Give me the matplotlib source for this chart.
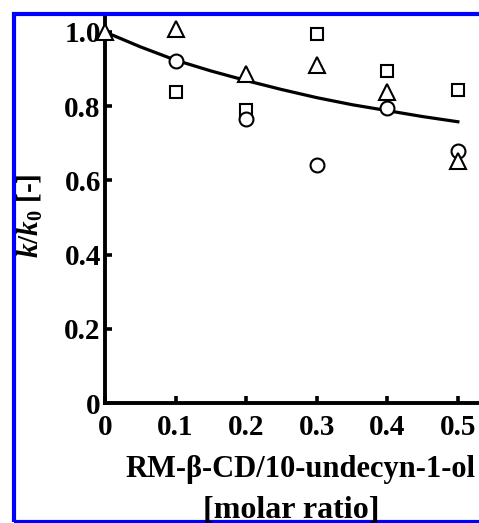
import numpy as np
import matplotlib.pyplot as plt
from matplotlib.patches import Rectangle

plt.rcParams['font.family'] = 'Liberation Serif'
plt.rcParams['font.weight'] = 'bold'
plt.rcParams['mathtext.fontset'] = 'custom'
plt.rcParams['mathtext.rm'] = 'Liberation Serif:bold'
plt.rcParams['mathtext.it'] = 'Liberation Serif:italic:bold'
plt.rcParams['mathtext.bf'] = 'Liberation Serif:bold'

# values
x_tri = [0.0, 0.1, 0.2, 0.3, 0.4, 0.5]
y_tri = [1.0, 1.008, 0.887, 0.912, 0.838, 0.651]
x_sq = [0.1, 0.2, 0.3, 0.4, 0.5]
y_sq = [0.838, 0.790, 0.994, 0.895, 0.843]
x_circ = [0.1, 0.2, 0.3, 0.4, 0.5]
y_circ = [0.922, 0.766, 0.642, 0.796, 0.680]
x_fit = [0.0, 0.05, 0.1, 0.15, 0.2, 0.25, 0.3, 0.35, 0.4, 0.45, 0.5]
y_fit = [1.0, 0.960, 0.924, 0.895, 0.869, 0.845, 0.823, 0.804, 0.788, 0.772, 0.758]

W, H = 479, 523
fig = plt.figure(figsize=(W / 100, H / 100), dpi=100)
ax = fig.add_axes([105 / W, 120 / H, 374 / W, 387 / H])

ax.plot(x_fit, y_fit, color='black', lw=2.3, zorder=2)
mk = dict(ls='none', mfc='white', mec='black', mew=1.5, zorder=3, clip_on=False)
ax.plot(x_sq, y_sq, marker='s', ms=9, **mk)
ax.plot(x_circ, y_circ, marker='o', ms=10, **mk)
ax.plot(x_tri, y_tri, marker='^', ms=11.5, **mk)

ax.set_xlim(0, 0.53)
ax.set_ylim(0, 1.043)
ax.set_xticks([0, 0.1, 0.2, 0.3, 0.4, 0.5])
ax.set_xticklabels(['0', '0.1', '0.2', '0.3', '0.4', '0.5'])
ax.set_yticks([0, 0.2, 0.4, 0.6, 0.8, 1.0])
ax.set_yticklabels(['0', '0.2', '0.4', '0.6', '0.8', '1.0'])
for s in ['top', 'right']:
    ax.spines[s].set_visible(False)
for s in ['left', 'bottom']:
    ax.spines[s].set_linewidth(2.8)
ax.tick_params(direction='in', length=5, width=2.6, labelsize=21)
ax.tick_params(axis='x', pad=8)
ax.tick_params(axis='y', pad=3)

fig.text(300 / W, 53 / H, 'RM-β-CD/10-undecyn-1-ol', ha='center', va='center',
         fontsize=22, fontweight='bold')
fig.text(291 / W, 13 / H, '[molar ratio]', ha='center', va='center',
         fontsize=23, fontweight='bold')
fig.text(30 / W, 1 - 216 / H, r'$k$/$k_{0}$ [-]', rotation=90, ha='center',
         va='center', fontsize=21)

fig.patches.append(Rectangle((14, 1), 600, H - 14.5, transform=None,
                             fill=False, edgecolor='#0000ff', lw=3))

fig.savefig('out.png', dpi=100)
